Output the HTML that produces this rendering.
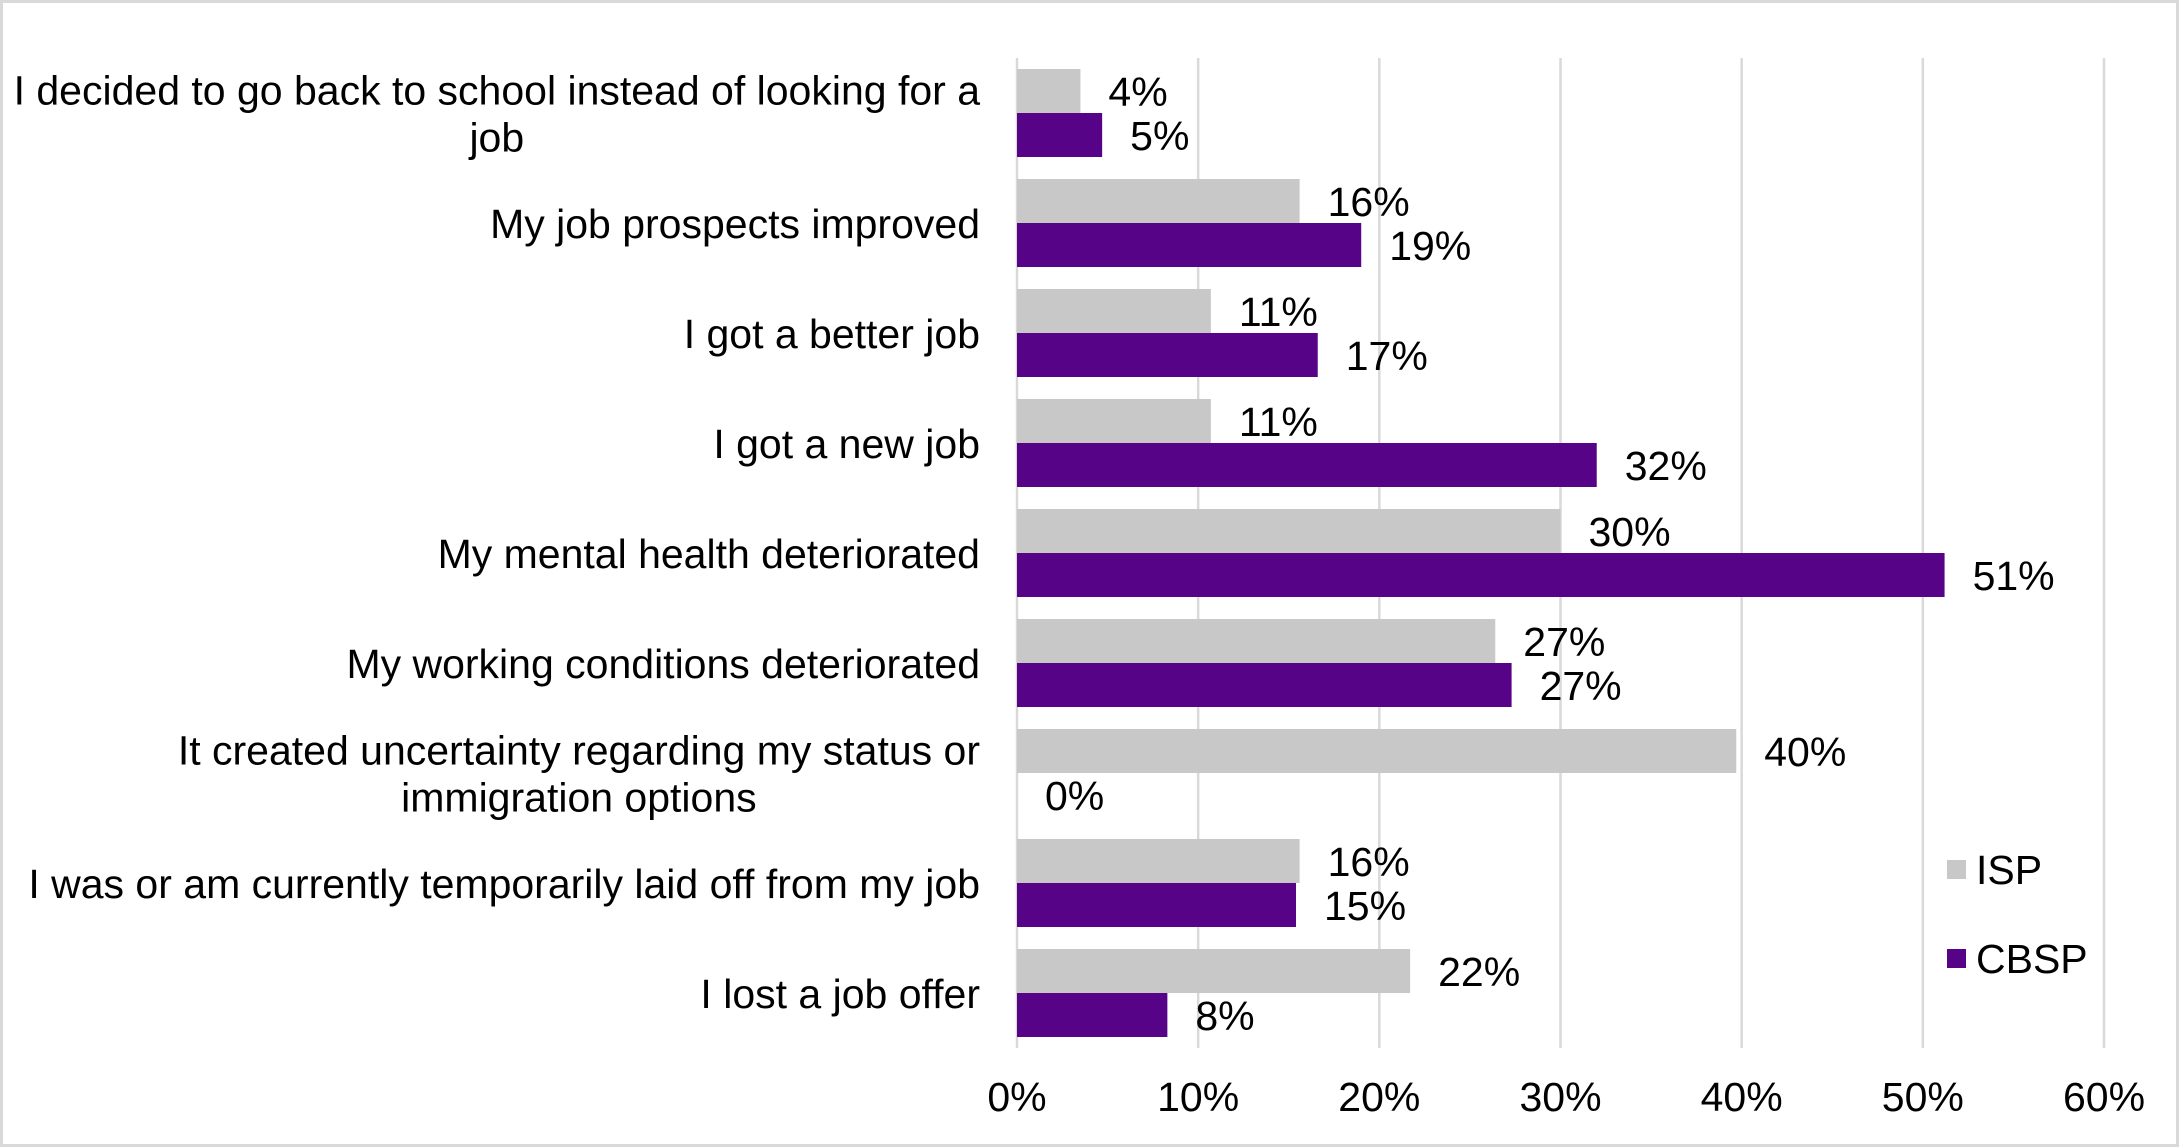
<!DOCTYPE html>
<html><head><meta charset="utf-8"><style>
html,body{margin:0;padding:0;background:#fff;}
svg{display:block;font-family:"Liberation Sans",Arial,sans-serif;}
text{font-family:"Liberation Sans",Arial,sans-serif;}
</style></head><body>
<svg id="chart" width="2179" height="1148" viewBox="0 0 2179 1148" xmlns="http://www.w3.org/2000/svg">
<rect x="1.5" y="1.5" width="2176" height="1144" fill="#fff" stroke="#d9d9d9" stroke-width="3"/>
<g id="grid"></g><g id="bars"></g><g id="labels"></g>
<g>
<rect x="1947" y="860" width="19" height="19" fill="#c8c8c8"/>
<text x="1976" y="884" font-size="41">ISP</text>
<rect x="1947" y="949" width="19" height="19" fill="#570387"/>
<text x="1976" y="973" font-size="41">CBSP</text>
</g>
</svg>
<script>
const categories=[["I decided to go back to school instead of looking for a","job"],["My job prospects improved"],["I got a better job"],["I got a new job"],["My mental health deteriorated"],["My working conditions deteriorated"],["It created uncertainty regarding my status or","immigration options"],["I was or am currently temporarily laid off from my job"],["I lost a job offer"]];
const ispValues=[3.5,15.6,10.7,10.7,30.0,26.4,39.7,15.6,21.7];
const cbspValues=[4.7,19.0,16.6,32.0,51.2,27.3,0,15.4,8.3];
const ispLabels=["4%","16%","11%","11%","30%","27%","40%","16%","22%"];
const cbspLabels=["5%","19%","17%","32%","51%","27%","0%","15%","8%"];
const ticks=[0,10,20,30,40,50,60];
const NS="http://www.w3.org/2000/svg";
const FS=41;
const x0=1017,x1=2104,plotTop=58,plotBottom=1048;
const band=(plotBottom-plotTop)/categories.length,pad=11,bh=(band-2*pad)/2;
const xs=v=>x0+(v/60)*(x1-x0);
function mk(t,a,p,txt){const e=document.createElementNS(NS,t);for(const k in a)e.setAttribute(k,a[k]);if(txt!==undefined)e.textContent=txt;p.appendChild(e);return e;}
const G=document.getElementById('grid'),B=document.getElementById('bars'),L=document.getElementById('labels');
ticks.forEach(t=>{
 const l=mk('line',{x1:xs(t),x2:xs(t),y1:plotTop,y2:plotBottom,stroke:'#d9d9d9','stroke-width':2.5},G);
 
 
 const tx=mk('text',{x:xs(t),y:1111,'font-size':FS,'text-anchor':'middle'},L,t+'%');
 
 
});
categories.forEach((c,i)=>{
 const y=plotTop+i*band+pad;
 const r1=mk('rect',{x:x0,y:y,width:xs(ispValues[i])-x0,height:bh,fill:'#c8c8c8'},B);
 
 
 const r2=mk('rect',{x:x0,y:y+bh,width:xs(cbspValues[i])-x0,height:bh,fill:'#570387'},B);
 
 
 const t1=mk('text',{x:xs(ispValues[i])+28,y:y+bh/2+15,'font-size':FS},L,ispLabels[i]);
 
 
 const t2=mk('text',{x:xs(cbspValues[i])+28,y:y+1.5*bh+15,'font-size':FS},L,cbspLabels[i]);
 
 
 const cy=plotTop+(i+0.5)*band;
 const n=c.length,lh=47;
 let firstW=0;
 c.forEach((line,j)=>{
  const ty=cy+15+(j-(n-1)/2)*lh;
  const last=n>1&&j==n-1;
  const tt=mk('text',{x:last?(980-firstW/2):980,y:ty,'font-size':FS,'text-anchor':last?'middle':'end'},L,line);
  
  
  if(j==0)firstW=tt.getComputedTextLength();
 });
});
</script>
</body></html>
